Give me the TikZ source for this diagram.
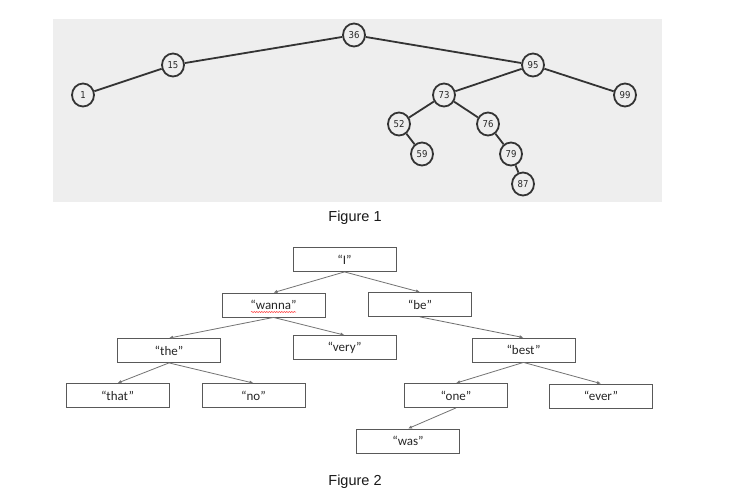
\documentclass[tikz,border=0pt]{standalone}
\usepackage{fontspec}
\setmainfont{Liberation Sans}
\newfontfamily\calfont{Carlito}
\newfontfamily\numfont[FakeStretch=0.9]{DejaVu Sans}
\usetikzlibrary{arrows.meta,decorations.pathmorphing,shapes.geometric}
\definecolor{bggray}{HTML}{EEEEEE}
\begin{document}
\begin{tikzpicture}[x=1pt,y=-1pt,
 num/.style={ellipse, draw=black!80, line width=1.8pt, fill=bggray, minimum width=22pt, minimum height=23pt, inner sep=0pt, font=\numfont\fontsize{9.5}{9.5}\selectfont, text=black!85},
 edge1/.style={draw=black!80, line width=1.8pt},
 wbox/.style={draw=black!65, line width=0.8pt, minimum width=103pt, minimum height=24pt, inner sep=0pt, font=\calfont\fontsize{13}{13}\selectfont, text=black!85},
 arr/.style={draw=black!55, line width=0.8pt, -{Latex[length=4pt,width=3.5pt]}},
 figcap/.style={font=\fontsize{14.5}{14.5}\selectfont, text=black!90}
]
\useasboundingbox (0,0) rectangle (731,499);
\fill[white] (0,0) rectangle (731,499);
\fill[bggray] (53,19) rectangle (662,202);

% Figure 1
\node[num] (n36) at (354,35) {36};
\node[num] (n15) at (173,65) {15};
\node[num] (n1) at (83,95) {1};
\node[num] (n95) at (533,65) {95};
\node[num] (n99) at (625,95) {99};
\node[num] (n73) at (444,95) {73};
\node[num] (n52) at (399,124) {52};
\node[num] (n76) at (488,124) {76};
\node[num] (n59) at (422,154) {59};
\node[num] (n79) at (511,154) {79};
\node[num] (n87) at (523,184) {87};
\draw[edge1] (n36) -- (n15);
\draw[edge1] (n15) -- (n1);
\draw[edge1] (n36) -- (n95);
\draw[edge1] (n95) -- (n73);
\draw[edge1] (n95) -- (n99);
\draw[edge1] (n73) -- (n52);
\draw[edge1] (n73) -- (n76);
\draw[edge1] (n52) -- (n59);
\draw[edge1] (n76) -- (n79);
\draw[edge1] (n79) -- (n87);
\node[figcap] (f1) at (355,217.5) {Figure 1};

% Figure 2
\node[wbox] (I) at (344.5,259.5) {“I”};
\node[wbox] (wanna) at (273.5,305) {“wanna”};
\node[wbox] (very) at (344.5,347.5) {“very”};
\node[wbox] (the) at (169,350.5) {“the”};
\node[wbox] (that) at (117.5,395.5) {“that”};
\node[wbox] (no) at (253.5,395.5) {“no”};
\node[wbox] (be) at (420,304.5) {“be”};
\node[wbox] (best) at (523.5,350) {“best”};
\node[wbox] (one) at (456,395.5) {“one”};
\node[wbox] (ever) at (601,396) {“ever”};
\node[wbox] (was) at (408,441) {“was”};
\draw[arr] (I.south) -- (wanna.north);
\draw[arr] (I.south) -- (be.north);
\draw[arr] (wanna.south) -- (the.north);
\draw[arr] (wanna.south) -- (very.north);
\draw[arr] (the.south) -- (that.north);
\draw[arr] (the.south) -- (no.north);
\draw[arr] (be.south) -- (best.north);
\draw[arr] (best.south) -- (one.north);
\draw[arr] (best.south) -- (ever.north);
\draw[arr] (one.south) -- (was.north);
\coordinate (w1) at (251,312);
\coordinate (w2) at (296,312);
\draw[red!80, line width=0.5pt, decorate, decoration={snake, amplitude=0.6pt, segment length=2.5pt}] (w1) -- (w2);
\node[figcap] (f2) at (355,482) {Figure 2};
\end{tikzpicture}
\end{document}
